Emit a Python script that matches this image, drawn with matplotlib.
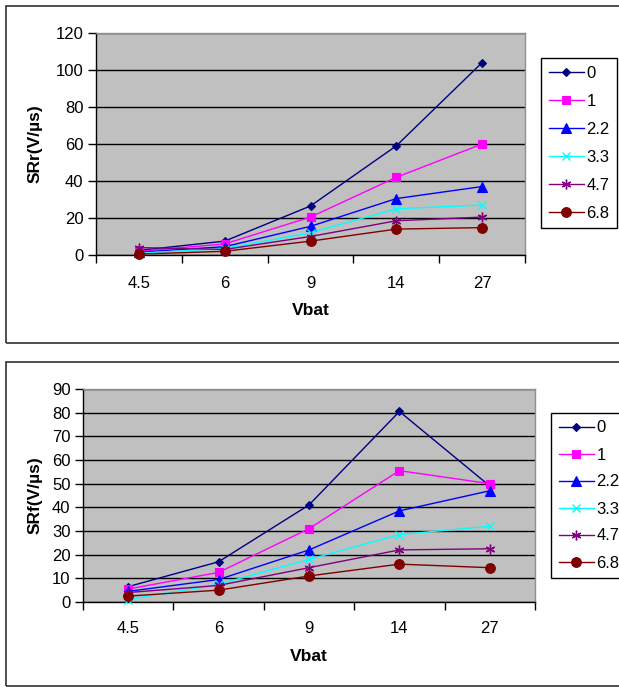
import matplotlib
matplotlib.use("Agg")
import matplotlib.pyplot as plt
from matplotlib.patches import Rectangle

plt.rcParams['font.family'] = ['Liberation Sans', 'DejaVu Sans']

categories = ["4.5", "6", "9", "14", "27"]
series_names = ["0", "1", "2.2", "3.3", "4.7", "6.8"]

srr_0 = [2.5, 7.5, 26.5, 59, 104]
srr_1 = [2, 6, 20.5, 42, 60]
srr_22 = [1.5, 4.5, 15.5, 30.5, 37]
srr_33 = [1, 3.5, 12, 25, 27]
srr_47 = [4, 3, 10, 18.5, 20.5]
srr_68 = [0.5, 2, 7.5, 14, 14.8]

srf_0 = [6.5, 17, 41, 80.5, 49]
srf_1 = [5.5, 12.5, 31, 55.5, 50]
srf_22 = [4.5, 9.5, 22, 38.5, 47]
srf_33 = [1, 7.5, 18, 28.5, 32]
srf_47 = [4, 7, 14.5, 22, 22.5]
srf_68 = [2.5, 5, 11, 16, 14.5]

srr = [srr_0, srr_1, srr_22, srr_33, srr_47, srr_68]
srf = [srf_0, srf_1, srf_22, srf_33, srf_47, srf_68]

colors = ["#000080", "#FF00FF", "#0000FF", "#00FFFF", "#800080", "#800000"]
markers = ["D", "s", "^", "x", (6, 2, 0), "o"]
msizes = [4.5, 6, 6.5, 6, 7, 7]

W, H = 619, 687
fig = plt.figure(figsize=(W / 100, H / 100), dpi=100)

# outer chart frames
for (y0, y1) in [(6, 343), (362, 686)]:
    fig.patches.append(Rectangle((6 / W, 1 - y1 / H), 1.0, (y1 - y0) / H,
                                 transform=fig.transFigure, fill=False,
                                 edgecolor="#303030", linewidth=1.2))


def make_panel(rect_px, data, ymax, ystep, ylabel, legend_px, tick_pad, label_y, lspacing):
    x0, y0, x1, y1 = rect_px
    ax = fig.add_axes([x0 / W, 1 - y1 / H, (x1 - x0) / W, (y1 - y0) / H])
    ax.set_facecolor("#C0C0C0")
    xs = list(range(len(categories)))
    for vals, c, m, ms, name in zip(data, colors, markers, msizes, series_names):
        ax.plot(xs, vals, color=c, marker=m, markersize=ms, linewidth=1.0,
                markeredgewidth=1.0 if m in ("x",) or isinstance(m, tuple) else 0.8,
                markerfacecolor=c, markeredgecolor=c, label=name, clip_on=False, zorder=3)
    ax.set_xlim(-0.5, len(categories) - 0.5)
    ax.set_ylim(0, ymax)
    ax.set_yticks(range(0, ymax + 1, ystep))
    ax.set_xticks(xs)
    ax.set_xticklabels(categories)
    ax.set_xticks([i - 0.5 for i in range(len(categories) + 1)], minor=True)
    ax.tick_params(axis="x", which="major", length=0, pad=tick_pad, labelsize=12)
    ax.tick_params(axis="x", which="minor", length=6, width=1, direction="out", color="black")
    ax.tick_params(axis="y", length=6, width=1, direction="out", pad=3, labelsize=12)
    ax.yaxis.grid(True, color="black", linewidth=1.0)
    ax.set_axisbelow(True)
    for s in ("top", "right"):
        ax.spines[s].set_color("#909090")
        ax.spines[s].set_linewidth(1.0)
    for s in ("left", "bottom"):
        ax.spines[s].set_color("black")
        ax.spines[s].set_linewidth(1.0)
    ax.set_xlabel("Vbat", fontsize=12.5, fontweight="bold", va="center")
    ax.xaxis.set_label_coords(0.5, label_y)
    ax.set_ylabel(ylabel, fontsize=12.5, fontweight="bold", va="center")
    ax.yaxis.set_label_coords((35 - x0) / (x1 - x0), 0.5)
    lx, ly = legend_px
    leg = ax.legend(loc="upper left", bbox_to_anchor=(lx / W, 1 - ly / H),
                    bbox_transform=fig.transFigure, borderaxespad=0,
                    fancybox=False, framealpha=1, edgecolor="black",
                    fontsize=12, handlelength=2.15, handletextpad=0.12,
                    labelspacing=lspacing, borderpad=0.45)
    leg.get_frame().set_linewidth(1.0)
    return ax


make_panel((96, 33, 525, 255), srr, 120, 20, "SRr(V/µs)", (541, 58), 15, -0.248, 0.78)
make_panel((83, 389, 535, 602), srf, 90, 10, "SRf(V/µs)", (551, 413), 13.5, -0.258, 0.72)

fig.savefig("out.png", dpi=100)
